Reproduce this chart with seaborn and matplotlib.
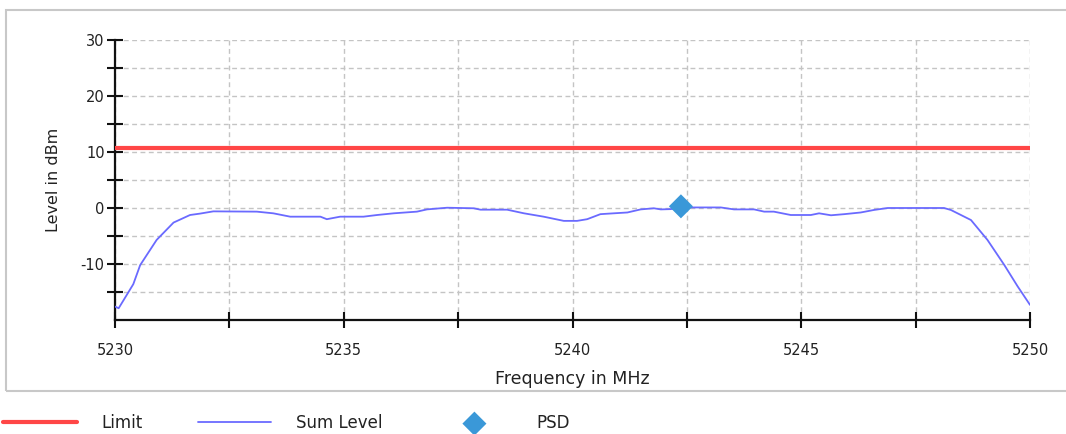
import matplotlib
matplotlib.use("Agg")
import matplotlib.pyplot as plt
from matplotlib.patches import Rectangle
from matplotlib.ticker import FixedLocator
import seaborn as sns
import pandas as pd

# Measured sum level over the channel
freq_mhz = [5230.0, 5230.08, 5230.4, 5230.55, 5230.91, 5231.28, 5231.64, 5231.86,
            5232.15, 5233.1, 5233.46, 5233.83, 5234.49, 5234.63, 5234.92, 5235.43,
            5235.73, 5236.09, 5236.6, 5236.82, 5237.26, 5237.84, 5237.99, 5238.57,
            5238.94, 5239.37, 5239.81, 5240.1, 5240.32, 5240.61, 5240.9, 5241.2,
            5241.49, 5241.78, 5241.93, 5242.14, 5242.51, 5243.24, 5243.53, 5243.97,
            5244.19, 5244.4, 5244.77, 5245.21, 5245.39, 5245.65, 5245.94, 5246.3,
            5246.59, 5246.89, 5248.12, 5248.27, 5248.71, 5249.07, 5249.44, 5249.73,
            5250.0]
sum_level_dbm = [-17.6, -17.9, -13.6, -10.2, -5.7, -2.6, -1.25, -1.0,
                 -0.6, -0.65, -0.95, -1.55, -1.55, -2.0, -1.55, -1.55,
                 -1.25, -0.95, -0.65, -0.25, 0.05, -0.05, -0.3, -0.3,
                 -0.95, -1.55, -2.3, -2.3, -2.0, -1.1, -0.95, -0.8,
                 -0.25, -0.05, -0.25, -0.2, 0.1, 0.1, -0.25, -0.25,
                 -0.65, -0.65, -1.25, -1.25, -0.95, -1.3, -1.1, -0.8,
                 -0.35, 0.0, 0.0, -0.35, -2.15, -5.7, -10.2, -14.0,
                 -17.3]

# Limit line and power spectral density marker
limit_freq = [5230.0, 5250.0]
limit_dbm = [10.8, 10.8]
psd_freq = [5242.37]
psd_dbm = [0.3]

x_labels = ["5230", "5235", "5240", "5245", "5250"]
y_labels = ["-10", "0", "10", "20", "30"]

sns.set_theme(style="white")
plt.rcParams["font.family"] = ["DejaVu Sans"]

fig = plt.figure(figsize=(10.66, 4.34), dpi=100)
ax = fig.add_axes([115 / 1066, 1 - 320 / 434, (1030 - 115) / 1066, (320 - 40) / 434])

curve = pd.DataFrame({"f": freq_mhz, "lvl": sum_level_dbm})
limit = pd.DataFrame({"f": limit_freq, "lvl": limit_dbm})
psd = pd.DataFrame({"f": psd_freq, "lvl": psd_dbm})

sns.lineplot(data=limit, x="f", y="lvl", ax=ax, color="#ff4646", linewidth=3.0,
             label="Limit", zorder=3)
sns.lineplot(data=curve, x="f", y="lvl", ax=ax, color="#6a6aff", linewidth=1.3,
             label="Sum Level", zorder=4)
sns.scatterplot(data=psd, x="f", y="lvl", ax=ax, color="#3a98d8", marker="D",
                s=150, edgecolor="none", label="PSD", zorder=5)

ax.set_xlim(5230, 5250)
ax.set_ylim(-20, 30)

ax.xaxis.set_major_locator(FixedLocator([5230, 5235, 5240, 5245, 5250]))
ax.set_xticklabels(x_labels)
ax.xaxis.set_minor_locator(FixedLocator([5232.5, 5237.5, 5242.5, 5247.5]))
ax.yaxis.set_major_locator(FixedLocator([-10, 0, 10, 20, 30]))
ax.set_yticklabels(y_labels)
ax.yaxis.set_minor_locator(FixedLocator([-15, -5, 5, 15, 25]))

ax.grid(True, which="both", color="#c4c4c4", linestyle=(0, (3.5, 2.5)), linewidth=1.0)
ax.set_axisbelow(True)

for side in ("top", "right"):
    ax.spines[side].set_visible(False)
for side in ("left", "bottom"):
    ax.spines[side].set_color("#111111")
    ax.spines[side].set_linewidth(1.6)

ax.tick_params(axis="both", which="both", direction="inout", length=11, width=1.5,
               color="#111111", labelsize=10.5, labelcolor="#222222",
               bottom=True, left=True, top=False, right=False)
ax.tick_params(axis="x", which="both", pad=11)
ax.tick_params(axis="y", which="both", pad=2)

ax.set_xlabel("Frequency in MHz", fontsize=12.5, color="#222222", labelpad=9)
ax.set_ylabel("Level in dBm", fontsize=11.5, color="#222222", labelpad=14)

handles, labels = ax.get_legend_handles_labels()
ax.get_legend().remove()
fig.legend(handles, labels, loc="center left", bbox_to_anchor=(0.0, 1 - 423 / 434),
           ncol=3, frameon=False, fontsize=12, handlelength=4.4, handletextpad=1.5,
           columnspacing=3.3, borderaxespad=0, borderpad=0.2, labelcolor="#222222")

# Panel frame around the plot area
fig.add_artist(Rectangle((6 / 1066, 1 - 391 / 434), 1.1, (391 - 9.5) / 434,
                         transform=fig.transFigure, fill=False,
                         edgecolor="#c8c8c8", linewidth=1.5, clip_on=False))

fig.savefig("out.png", dpi=100)
